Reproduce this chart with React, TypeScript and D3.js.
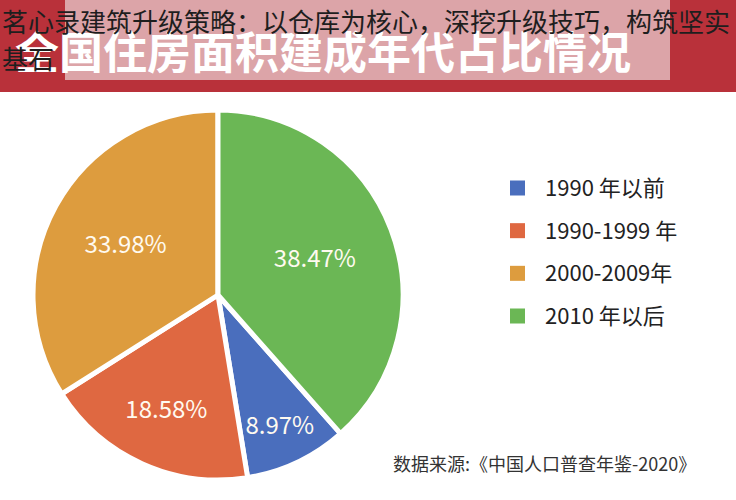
import React from 'react';
import * as d3 from 'd3';

// data
const categories = ['1990 年以前', '1990-1999 年', '2000-2009年', '2010 年以后'];
const shares = [8.97, 18.58, 33.98, 38.47];
const sliceColors = ['#4a6ebd', '#df6841', '#dd9c3e', '#6bb755'];
// how far out each percent label sits, as a share of the radius
const labelRadius = [0.78, 0.68, 0.57, 0.56];

const title = '全国住房面积建成年代占比情况';
const overlayLines = ['茗心录建筑升级策略：以仓库为核心，深挖升级技巧，构筑坚实', '基石'];
const source = '数据来源:《中国人口普查年鉴-2020》';

const W = 736;
const H = 500;
const cx = 218;
const cy = 295;
const R = 185;
const font = '"Noto Sans CJK SC", "Noto Sans", sans-serif';

export default function App() {
  const total = d3.sum(shares);
  // the last slice (2010 年以后) begins at 12 o'clock, so the first starts where it ends
  const start = (shares[shares.length - 1] / total) * Math.PI * 2;
  const pie = d3.pie<number>()
    .sort(null)
    .value(d => d)
    .startAngle(start)
    .endAngle(start + Math.PI * 2);
  const arcs = pie(shares);
  const arc = d3.arc<d3.PieArcDatum<number>>().innerRadius(0).outerRadius(R);

  const legendY = d3.scalePoint<number>().domain(d3.range(categories.length)).range([188, 316]);

  return (
    <>
      <style>{'body{margin:0}'}</style>
      <svg width={W} height={H} style={{ display: 'block', background: '#fff' }}>
        {/* banner */}
        <rect x={0} y={0} width={W} height={92} fill="#b9313a" />
        <rect x={65} y={0} width={605} height={80} fill="#dca4a8" />
        <text x={15} y={69} fill="#fff" fontFamily={font} fontWeight={700} fontSize={44}>
          {title}
        </text>
        {overlayLines.map((t, i) => (
          <text key={i} x={2} y={32 + i * 37} fill="#1e1e1e" fontFamily={font} fontSize={26}>
            {t}
          </text>
        ))}

        {/* pie */}
        <g transform={`translate(${cx},${cy})`}>
          {arcs.map((a, i) => (
            <path key={i} d={arc(a) || ''} fill={sliceColors[i]} stroke="#fff" strokeWidth={5} strokeLinejoin="round" />
          ))}
          {arcs.map((a, i) => {
            const mid = (a.startAngle + a.endAngle) / 2;
            const r = R * labelRadius[i];
            return (
              <text
                key={i}
                x={Math.sin(mid) * r}
                y={-Math.cos(mid) * r}
                dy="0.35em"
                textAnchor="middle"
                fill="#fffaf0"
                fontFamily={font}
                fontSize={24}
              >
                {shares[i].toFixed(2)}%
              </text>
            );
          })}
        </g>

        {/* legend */}
        {categories.map((c, i) => (
          <g key={c} transform={`translate(510,${legendY(i)})`}>
            <rect x={0} y={-7.5} width={15} height={15} fill={sliceColors[i]} />
            <text x={35} y={0} dy="0.36em" fill="#222" fontFamily={font} fontSize={22}>
              {c}
            </text>
          </g>
        ))}

        <text x={393} y={471} fill="#333" fontFamily={font} fontSize={18}>
          {source}
        </text>
      </svg>
    </>
  );
}
